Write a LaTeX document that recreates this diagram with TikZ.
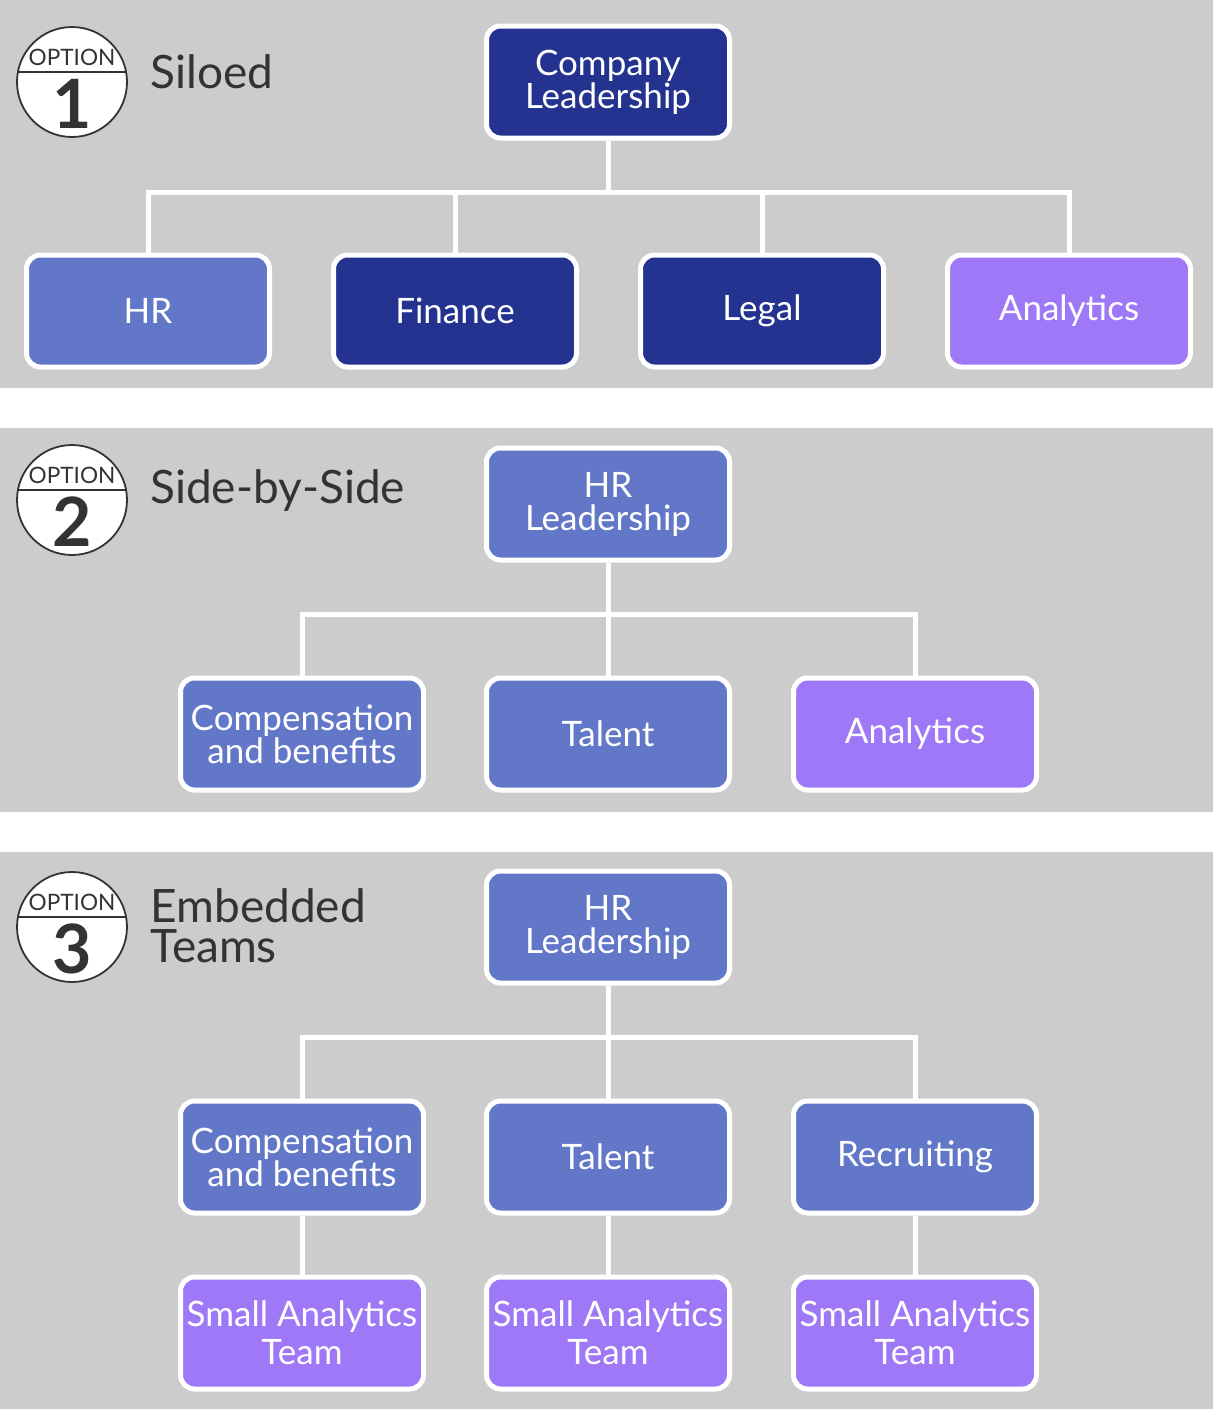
\documentclass[tikz,border=0pt]{standalone}
\usepackage{fontspec}
\setmainfont{Lato}
\usetikzlibrary{positioning,calc}

\definecolor{panelgray}{HTML}{CCCCCC}
\definecolor{navy}{HTML}{24338F}
\definecolor{hrblue}{HTML}{6377C9}
\definecolor{anapurple}{HTML}{9F78F8}
\definecolor{textgray}{HTML}{333333}

\tikzset{
  box/.style={draw=white, line width=2.5pt, rounded corners=7pt,
    minimum width=121.5pt, minimum height=56pt, inner sep=0pt,
    text=white, align=center, font=\fontsize{17.5}{16.5}\selectfont},
  navybox/.style={box, fill=navy},
  hrbox/.style={box, fill=hrblue},
  anabox/.style={box, fill=anapurple},
  teambox/.style={anabox, font=\fontsize{17.5}{19}\selectfont},
  conn/.style={draw=white, line width=2.5pt},
  optcirc/.style={circle, draw=textgray, fill=white, line width=0.9pt,
    minimum size=55pt, inner sep=0pt},
  optword/.style={text=textgray, inner sep=0pt, font=\fontsize{11.3}{12}\selectfont},
  optnum/.style={text=textgray, inner sep=0pt, font=\fontsize{34}{34}\selectfont\bfseries},
  title/.style={text=textgray, anchor=west, align=left, inner sep=0pt,
    font=\fontsize{23}{20}\selectfont}
}

\begin{document}
\begin{tikzpicture}[x=0.5pt,y=-0.5pt]
    \useasboundingbox (0,0) rectangle (1213,1409);

    % Hintergrund
    \fill[panelgray] (0,0) rectangle (1213,388);
    \fill[panelgray] (0,428) rectangle (1213,812);
    \fill[panelgray] (0,852) rectangle (1213,1409);

    % Optionen
    \foreach \n/\y in {1/82,2/500,3/927} {
      \node[optcirc] (opt\n) at (72,\y) {};
      \draw[textgray, line width=0.9pt] ($(opt\n.center)+(-55,-10)$) -- ($(opt\n.center)+(55,-10)$);
      \node[optword] (optw\n) at ($(opt\n.center)+(0,-25)$) {OPTION};
      \node[optnum] (optn\n) at ($(opt\n.center)+(0,22)$) {\n};
    }
    \node[title] (t1) at (150,72) {Siloed};
    \node[title] (t2) at (150,490) {Side-by-Side};
    \node[title] (t3) at (150,926) {Embedded\\Teams};

    % Option 1
    \node[navybox] (lead1) at (608,82) {Company\\Leadership};
    \node[hrbox]   (hr1)   at (148,311) {HR};
    \node[navybox] (fin1)  at (455,311) {Finance};
    \node[navybox] (leg1)  at (762,311) {Legal};
    \node[anabox]  (ana1)  at (1069,311) {Analytics};
    \foreach \c in {hr1,fin1,leg1,ana1}
      \draw[conn] (lead1.south) -- ++(0,52) -| (\c.north);

    % Option 2
    \node[hrbox]  (lead2) at (608,504) {HR\\Leadership};
    \node[hrbox]  (comp2) at (302,734) {Compensation\\and benefits};
    \node[hrbox]  (tal2)  at (608,734) {Talent};
    \node[anabox] (ana2)  at (915,734) {Analytics};
    \foreach \c in {comp2,tal2,ana2}
      \draw[conn] (lead2.south) -- ++(0,52) -| (\c.north);

    % Option 3
    \node[hrbox]  (lead3) at (608,927) {HR\\Leadership};
    \node[hrbox]  (comp3) at (302,1157) {Compensation\\and benefits};
    \node[hrbox]  (tal3)  at (608,1157) {Talent};
    \node[hrbox]  (rec3)  at (915,1157) {Recruiting};
    \foreach \c in {comp3,tal3,rec3}
      \draw[conn] (lead3.south) -- ++(0,52) -| (\c.north);

    \node[teambox] (sat1) at (302,1333) {Small Analytics\\Team};
    \node[teambox] (sat2) at (608,1333) {Small Analytics\\Team};
    \node[teambox] (sat3) at (915,1333) {Small Analytics\\Team};
    \draw[conn] (comp3) -- (sat1);
    \draw[conn] (tal3) -- (sat2);
    \draw[conn] (rec3) -- (sat3);

  \end{tikzpicture}
\end{document}
